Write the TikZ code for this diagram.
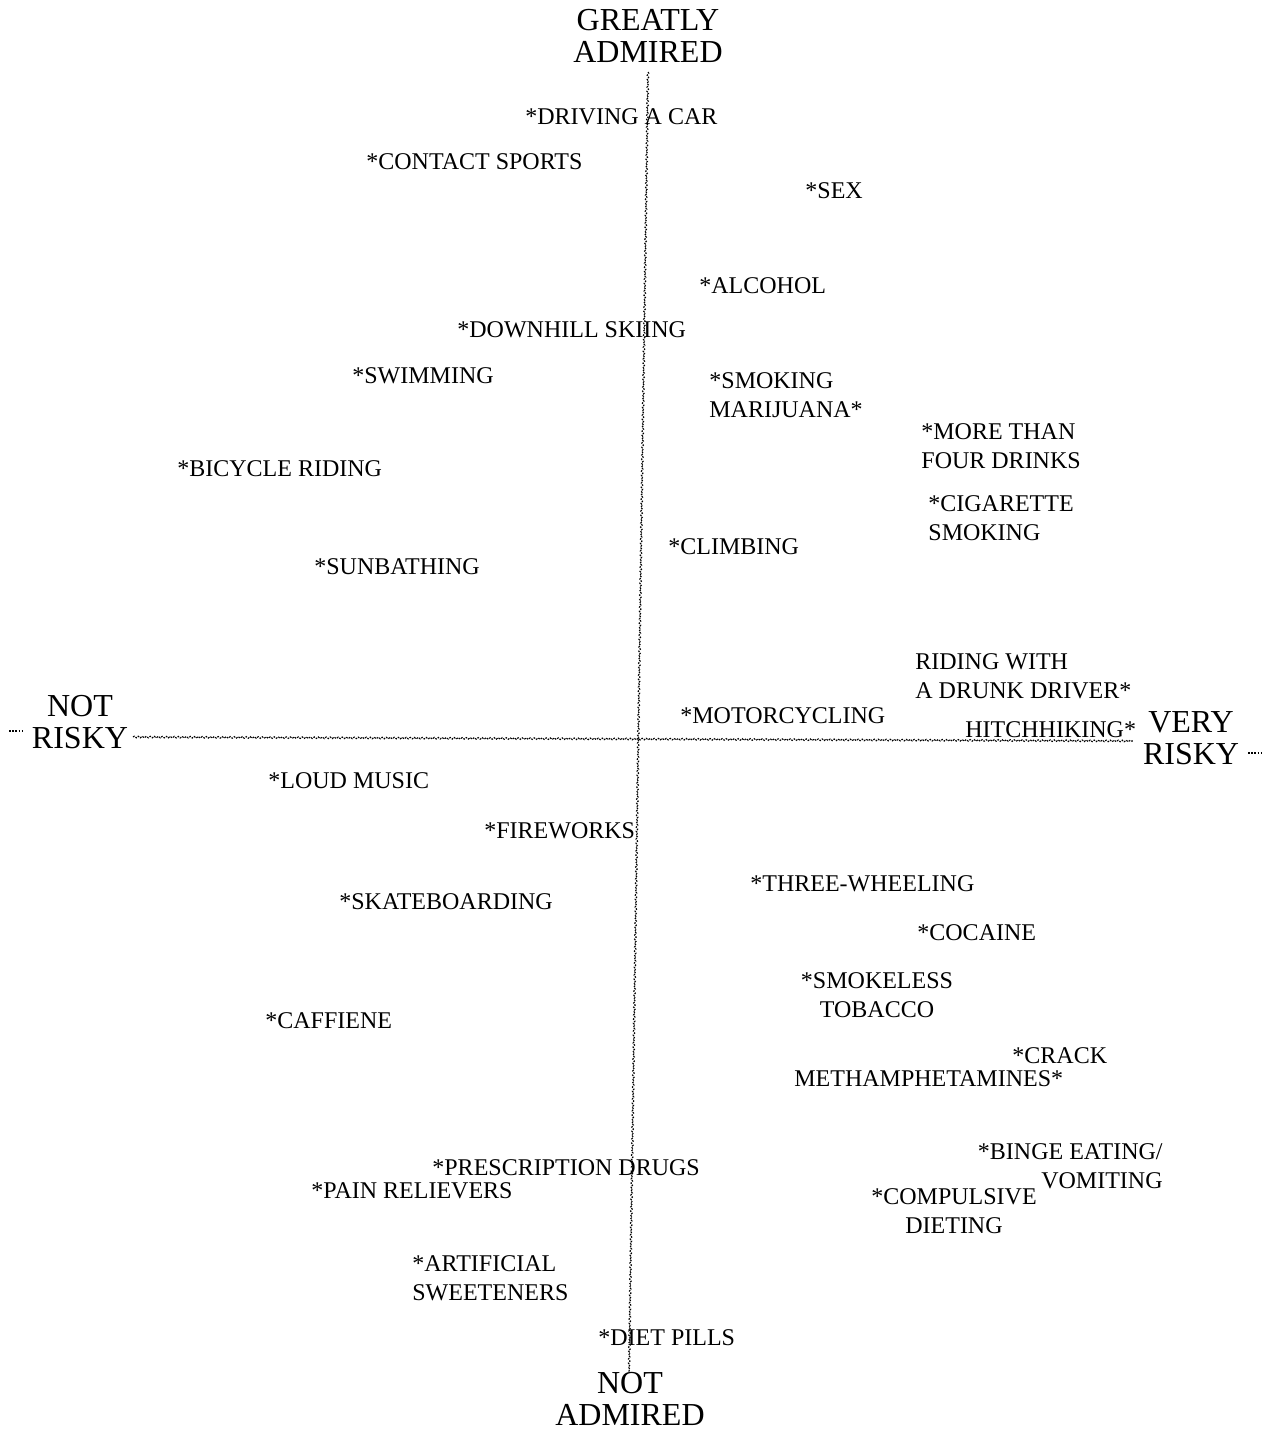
\documentclass[tikz,border=0pt]{standalone}
\usepackage{fontspec}
\setmainfont{Liberation Serif}
\usetikzlibrary{decorations.pathmorphing}
\begin{document}
\begin{tikzpicture}[x=0.5pt,y=-0.5pt,
  item/.style={font=\fontsize{12}{14.5}\selectfont, inner sep=0pt, align=left, anchor=north west},
  itemc/.style={item, align=center, anchor=north},
  itemr/.style={item, align=right, anchor=north east},
  pole/.style={font=\fontsize{16}{16}\selectfont, inner sep=0pt, align=center, anchor=north},
  axisline/.style={line width=0.55pt, dash pattern=on 0.9pt off 0.6pt, decorate,
    decoration={snake, amplitude=0.4pt, segment length=2pt}},
  stub/.style={line width=0.55pt, dash pattern=on 0.9pt off 0.7pt}]
\useasboundingbox (0,0) rectangle (1265,1430);
\fill[white] (0,0) rectangle (1265,1430);

% axis end points
\coordinate (top) at (648,72);
\coordinate (bottom) at (629,1372);
\coordinate (left) at (133,737);
\coordinate (right) at (1133,741);
\coordinate (lstubA) at (9,731);
\coordinate (lstubB) at (22,731);
\coordinate (rstubA) at (1248,753);
\coordinate (rstubB) at (1262,753);

% axes
\draw[axisline] (top) -- (bottom);
\draw[axisline] (left) -- (right);
\draw[stub] (lstubA) -- (lstubB);
\draw[stub] (rstubA) -- (rstubB);

% pole labels
\node[pole] (admired) at (648,9) {GREATLY\\ADMIRED};
\node[pole] (notadmired) at (630,1372) {NOT\\ADMIRED};
\node[pole] (notrisky) at (80,695) {NOT\\RISKY};
\node[pole] (veryrisky) at (1191,711) {VERY\\RISKY};

% activities
\node[item] (car) at (525,108) {*DRIVING A CAR};
\node[item] (contact) at (366,153) {*CONTACT SPORTS};
\node[item] (sex) at (805,182) {*SEX};
\node[item] (alcohol) at (699,277) {*ALCOHOL};
\node[item] (skiing) at (457,321) {*DOWNHILL SKIING};
\node[item] (swimming) at (352,367) {*SWIMMING};
\node[item] (marijuana) at (709,372) {*SMOKING\\MARIJUANA*};
\node[item] (drinks) at (921,423) {*MORE THAN\\FOUR DRINKS};
\node[item] (bicycle) at (177,460) {*BICYCLE RIDING};
\node[item] (cigarette) at (928,495) {*CIGARETTE\\SMOKING};
\node[item] (climbing) at (668,538) {*CLIMBING};
\node[item] (sunbathing) at (314,558) {*SUNBATHING};
\node[item] (drunk) at (915,653) {RIDING WITH\\A DRUNK DRIVER*};
\node[item] (motorcycling) at (680,707) {*MOTORCYCLING};
\node[item] (hitchhiking) at (965,721) {HITCHHIKING*};
\node[item] (loud) at (268,772) {*LOUD MUSIC};
\node[item] (fireworks) at (484,822) {*FIREWORKS};
\node[item] (three) at (750,875) {*THREE-WHEELING};
\node[item] (skate) at (339,893) {*SKATEBOARDING};
\node[item] (cocaine) at (917,924) {*COCAINE};
\node[itemc] (smokeless) at (877,972) {*SMOKELESS\\TOBACCO};
\node[item] (caffiene) at (265,1012) {*CAFFIENE};
\node[item] (crack) at (1012,1047) {*CRACK};
\node[item] (meth) at (794,1070) {METHAMPHETAMINES*};
\node[itemr] (binge) at (1163,1143) {*BINGE EATING/\\VOMITING};
\node[itemc] (dieting) at (954,1188) {*COMPULSIVE\\DIETING};
\node[item] (prescription) at (432,1159) {*PRESCRIPTION DRUGS};
\node[item] (pain) at (311,1182) {*PAIN RELIEVERS};
\node[item] (sweeteners) at (412,1255) {*ARTIFICIAL\\SWEETENERS};
\node[item] (pills) at (598,1329) {*DIET PILLS};
\end{tikzpicture}
\end{document}
